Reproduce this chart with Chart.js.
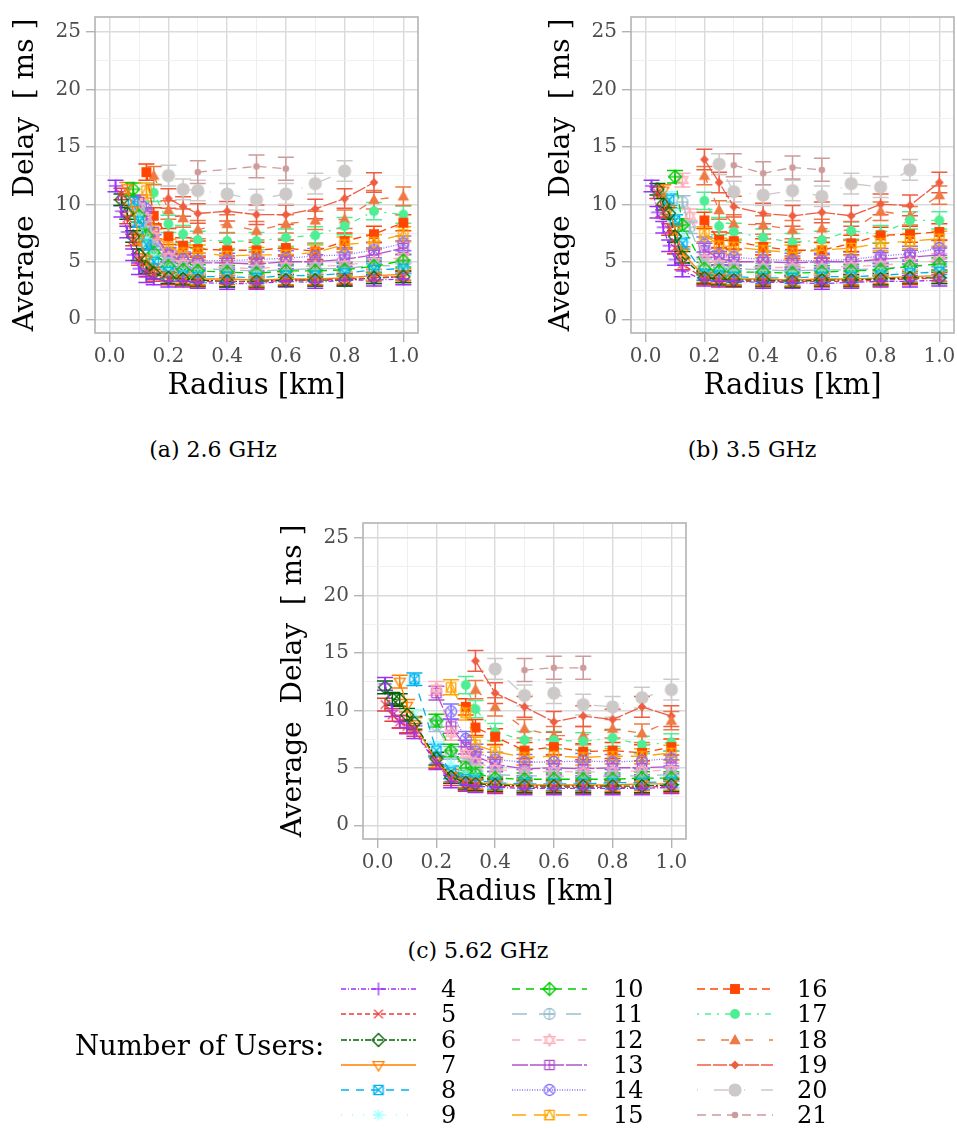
<!DOCTYPE html>
<html>
<head>
<meta charset="utf-8">
<script src="https://cdn.jsdelivr.net/npm/chart.js@4.4.1/dist/chart.umd.min.js"></script>
<style>
  body { margin: 0; background: #fff; width: 957px; height: 1129px; position: relative; overflow: hidden;
         font-family: "DejaVu Serif", serif; color: #000; }
  .panel { position: absolute; width: 440px; height: 410px; }
  .cap { position: absolute; font-size: 22px; transform: translateX(-50%); white-space: nowrap; }
  .lg-title { position: absolute; left: 75px; top: 1029px; font-size: 27.5px; white-space: nowrap; }
  .lg-num { position: absolute; font-size: 24px; line-height: 26px; }
  #legendCanvas { position: absolute; left: 0; top: 960px; }
</style>
</head>
<body>

<canvas id="panelA" class="panel" width="440" height="410" style="left:0;top:0"></canvas>
<canvas id="panelB" class="panel" width="440" height="410" style="left:536px;top:0"></canvas>
<canvas id="panelC" class="panel" width="440" height="410" style="left:268px;top:506px"></canvas>

<div class="cap" style="left:213px;top:437px">(a) 2.6 GHz</div>
<div class="cap" style="left:752px;top:437px">(b) 3.5 GHz</div>
<div class="cap" style="left:478px;top:938px">(c) 5.62 GHz</div>

<canvas id="legendCanvas" width="957" height="169"></canvas>
<div class="lg-title">Number of Users:</div>
<div id="legendNums"></div>

<script>
// ---------- data ----------
const users = [4, 5, 6, 7, 8, 9, 10, 11, 12, 13, 14, 15, 16, 17, 18, 19, 20, 21];

// radius grid [km] used by (a) and (b)
const radiusAB = [0.02, 0.04, 0.06, 0.08, 0.1, 0.125, 0.15, 0.2, 0.25, 0.3, 0.4, 0.5, 0.6, 0.7, 0.8, 0.9, 1.0];
// radius grid [km] used by (c)
const radiusC = [0.025, 0.05, 0.075, 0.1, 0.125, 0.2, 0.25, 0.3, 0.333, 0.4, 0.5, 0.6, 0.7, 0.8, 0.9, 1.0];

const n = null;

// (a) 2.6 GHz — one row per number of users, average delay [ms]
const delay26 = [
  [11.6, 9.4, 7.6, 5.6, 4.4, 3.7, 3.5, 3.3, 3.3, 3.2, 3.1, 3.1, 3.3, 3.2, 3.4, 3.4, 3.5],
  [n, 10.9, 8.8, 6.9, 5.2, 4.2, 3.8, 3.5, 3.4, 3.3, 3.3, 3.2, 3.4, 3.4, 3.5, 3.6, 3.7],
  [n, 10.4, 9.2, 7.2, 5.6, 4.5, 4.0, 3.6, 3.5, 3.4, 3.3, 3.3, 3.4, 3.4, 3.4, 3.6, 3.7],
  [n, n, 11.4, 9.5, 7.0, 5.2, 4.3, 3.8, 3.6, 3.5, 3.5, 3.4, 3.5, 3.5, 3.6, 3.8, 3.9],
  [n, n, n, 10.2, 8.5, 6.5, 5.0, 4.1, 3.8, 3.7, 3.7, 3.6, 3.8, 3.8, 4.0, 4.3, 4.4],
  [n, n, n, 9.8, 8.8, 7.0, 5.5, 4.3, 4.0, 3.9, 3.8, 3.8, 3.9, 3.9, 4.1, 4.2, 4.4],
  [n, n, n, 11.3, 9.0, 7.3, 5.8, 4.6, 4.3, 4.2, 4.1, 4.0, 4.2, 4.2, 4.3, 4.6, 5.1],
  [n, n, n, n, 9.6, 8.0, 6.3, 4.9, 4.5, 4.4, 4.3, 4.2, 4.3, 4.4, 4.4, 4.7, 4.6],
  [n, n, n, n, 9.8, 8.8, 7.2, 5.4, 4.8, 4.6, 4.5, 4.4, 4.6, 4.6, 4.7, 5.0, 5.4],
  [n, n, n, n, 10.2, 9.0, 7.6, 5.6, 5.0, 4.9, 4.9, 4.8, 5.0, 5.0, 5.2, 5.6, 6.2],
  [n, n, n, n, n, 9.6, 6.7, 5.6, 5.2, 5.1, 5.1, 5.2, 5.3, 5.5, 5.6, 6.0, 6.6],
  [n, n, n, n, n, 11.2, 7.5, 6.3, 5.8, 5.8, 5.5, 5.6, 5.6, 5.8, 6.5, 6.7, 7.4],
  [n, n, n, n, n, 12.8, 9.0, 7.2, 6.4, 6.1, 6.0, 6.0, 6.2, 5.9, 6.8, 7.4, 8.4],
  [n, n, n, n, n, n, 11.0, 8.3, 7.4, 6.9, 6.8, 6.8, 7.1, 7.3, 8.1, 9.4, 9.1],
  [n, n, n, n, n, n, 12.5, 9.5, 8.8, 7.8, 8.3, 7.7, 8.3, 8.6, 8.7, 10.4, 10.7],
  [n, n, n, n, n, n, n, 10.5, 9.8, 9.2, 9.4, 9.1, 9.1, 9.6, 10.5, 11.9, n],
  [n, n, n, n, n, n, n, 12.5, 11.3, 11.2, 10.9, 10.4, 10.9, 11.8, 12.9, n, n],
  [n, n, n, n, n, n, n, n, n, 12.8, n, 13.3, 13.1, n, n, n, n],
];

// (b) 3.5 GHz
const delay35 = [
  [11.6, 9.3, 8.0, 6.4, 5.2, 4.2, n, 3.4, 3.3, 3.3, 3.2, 3.2, 3.1, 3.2, 3.3, 3.3, 3.4],
  [n, 11.0, 9.4, 7.8, 6.2, 4.8, n, 3.5, 3.4, 3.3, 3.3, 3.3, 3.3, 3.3, 3.4, 3.5, 3.6],
  [n, 11.3, 10.0, 9.2, 7.2, 5.4, n, 3.6, 3.5, 3.4, 3.4, 3.3, 3.4, 3.4, 3.5, 3.6, 3.6],
  [n, n, 11.2, 9.6, 7.8, 5.8, n, 3.7, 3.6, 3.5, 3.5, 3.4, 3.5, 3.5, 3.6, 3.7, 3.8],
  [n, n, n, 10.4, 8.6, 6.6, n, 3.9, 3.8, 3.7, 3.6, 3.6, 3.7, 3.7, 3.8, 4.0, 4.1],
  [n, n, n, 10.6, 9.0, 7.2, n, 4.1, 3.9, 3.9, 3.8, 3.8, 3.9, 3.9, 4.0, 4.2, 4.3],
  [n, n, n, n, 12.4, 8.2, n, 4.4, 4.2, 4.1, 4.1, 4.0, 4.1, 4.2, 4.3, 4.6, 4.8],
  [n, n, n, n, n, 10.2, 8.0, 4.7, 4.5, 4.4, 4.3, 4.2, 4.3, 4.3, 4.4, 4.6, 4.7],
  [n, n, n, n, n, 12.1, 9.0, 5.2, 4.8, 4.6, 4.5, 4.5, 4.5, 4.6, 4.7, 4.9, 5.1],
  [n, n, n, n, n, n, n, 6.0, 5.3, 5.0, 5.0, 4.9, 5.0, 5.0, 5.2, 5.4, 5.6],
  [n, n, n, n, n, n, n, 6.5, 5.6, 5.4, 5.2, 5.1, 5.1, 5.2, 5.5, 5.7, 6.2],
  [n, n, n, n, n, n, n, 7.4, 6.4, 6.3, 6.0, 5.8, 6.0, 6.2, 6.6, 6.8, 7.0],
  [n, n, n, n, n, n, n, 8.6, 6.9, 6.8, 6.3, 6.0, 6.0, 6.6, 7.3, 7.4, 7.6],
  [n, n, n, n, n, n, n, 10.3, 8.1, 7.6, 7.1, 6.7, 6.9, 7.7, 7.4, 8.6, 8.6],
  [n, n, n, n, n, n, n, 12.5, 9.5, 8.3, 8.2, 7.8, 7.9, 7.7, 9.4, 9.0, 10.8],
  [n, n, n, n, n, n, n, 13.9, 11.9, 9.8, 9.2, 9.0, 9.3, 9.0, 10.0, 9.9, 11.9],
  [n, n, n, n, n, n, n, n, 13.5, 11.1, 10.8, 11.2, 10.7, 11.8, 11.5, 13.0, n],
  [n, n, n, n, n, n, n, n, n, 13.4, 12.7, 13.2, 13.0, n, n, n, n],
];

// (c) 5.62 GHz
const delay562 = [
  [12.3, 10.0, 9.0, 8.5, 8.1, 5.4, 3.8, 3.5, 3.4, 3.3, 3.2, 3.2, 3.2, 3.2, 3.2, 3.3],
  [10.5, 9.6, 9.0, 8.6, 8.3, 5.5, 4.0, 3.6, 3.5, 3.4, 3.3, 3.3, 3.3, 3.3, 3.3, 3.4],
  [12.0, 11.0, 10.9, 9.6, 8.9, 5.8, 4.2, 3.7, 3.6, 3.5, 3.4, 3.4, 3.4, 3.4, 3.4, 3.5],
  [n, n, 12.5, 10.4, 8.8, 5.6, 4.3, 3.8, 3.7, 3.6, 3.5, 3.5, 3.5, 3.5, 3.6, 3.6],
  [n, n, n, n, 12.7, 6.5, 4.6, 4.0, 3.9, 3.7, 3.6, 3.6, 3.6, 3.7, 3.7, 3.8],
  [n, n, n, n, 9.5, 6.7, 5.3, 4.4, 4.1, 3.8, 3.7, 3.7, 3.7, 3.8, 3.8, 3.8],
  [n, n, n, n, n, 9.1, 6.5, 5.0, 4.5, 4.1, 4.0, 4.0, 4.0, 4.0, 4.1, 4.1],
  [n, n, n, n, n, 8.7, 6.3, 5.3, 4.9, 4.4, 4.3, 4.3, 4.2, 4.3, 4.3, 4.4],
  [n, n, n, n, n, 11.9, 8.0, 6.2, 5.5, 4.9, 4.6, 4.7, 4.6, 4.7, 4.7, 4.8],
  [n, n, n, n, n, 11.5, 8.6, 6.8, 6.0, 5.3, 4.9, 5.0, 4.9, 5.0, 5.0, 5.1],
  [n, n, n, n, n, n, 9.9, 7.5, 6.4, 5.7, 5.5, 5.5, 5.6, 5.5, 5.6, 5.8],
  [n, n, n, n, n, n, 12.0, 9.8, 7.0, 6.4, 5.9, 6.0, 5.9, 6.0, 6.0, 6.3],
  [n, n, n, n, n, n, n, 10.3, 8.5, 7.7, 6.5, 6.8, 6.4, 6.5, 6.3, 6.8],
  [n, n, n, n, n, n, n, 12.2, 10.1, 8.1, 7.4, 7.4, 7.3, 7.6, 7.0, 7.2],
  [n, n, n, n, n, n, n, n, 11.8, 10.3, 8.4, 7.8, 7.8, 8.4, 8.0, 9.1],
  [n, n, n, n, n, n, n, n, 14.3, 11.5, 10.3, 9.0, 9.5, 9.2, 10.3, 9.5],
  [n, n, n, n, n, n, n, n, n, 13.6, 11.3, 11.5, 10.5, 10.3, 11.1, 11.8],
  [n, n, n, n, n, n, n, n, n, n, 13.5, 13.7, 13.7, n, n, n],
];

// half width of the error bars [ms], one per series
const err26  = [0.5, 0.5, 0.5, 0.5, 0.5, 0.5, 0.55, 0.55, 0.6, 0.6, 0.65, 0.65, 0.7, 0.75, 0.8, 0.85, 0.9, 1.0];
const err35  = [0.5, 0.5, 0.5, 0.5, 0.5, 0.5, 0.55, 0.55, 0.6, 0.6, 0.65, 0.65, 0.7, 0.75, 0.8, 0.9, 0.9, 1.0];
const err562 = [0.55, 0.55, 0.55, 0.55, 0.55, 0.55, 0.55, 0.55, 0.6, 0.6, 0.65, 0.65, 0.7, 0.75, 0.8, 0.9, 0.9, 1.0];

// axis ticks (minor lines every 0.1 km / 2.5 ms, labels on the major ones)
const xTicks = [0, 0.1, 0.2, 0.3, 0.4, 0.5, 0.6, 0.7, 0.8, 0.9, 1.0];
const yTicks = [0, 2.5, 5, 7.5, 10, 12.5, 15, 17.5, 20, 22.5, 25];

// ---------- style ----------
const seriesColors = ['#9B30FF', '#EE3B3B', '#006400', '#FF7F00', '#00B2EE', '#97FFFF',
  '#00CD00', '#9AC0CD', '#FFAEB9', '#B452CD', '#8470FF', '#FFA500',
  '#FF4500', '#4EEE94', '#EE7942', '#EE5C42', '#CDC9C9', '#CD9B9B'];
const seriesDash = [[5, 2, 1, 2], [5, 3], [6, 2, 2, 2], [], [8, 7], [1, 10],
  [8, 6], [15, 12], [8, 14], [16, 2], [1, 1.5], [14, 8],
  [8, 5], [2, 6, 6, 6], [8, 16], [14, 2], [1, 16, 14, 16], [9, 6]];
const seriesShape = [3, 4, 5, 6, 7, 8, 9, 10, 11, 12, 13, 14, 15, 16, 17, 18, 19, 20];

const GRID_MAJOR = '#DADADA';
const GRID_MINOR = '#EDEDED';
const FRAME = '#B3B3B3';

Chart.defaults.font.family = '"DejaVu Serif", serif';

//  MARKERS — R-like plotting symbols drawn on small canvases

function makeMarker(pch, color) {
  const S = 20;
  const c = document.createElement('canvas');
  c.width = S; c.height = S;
  const g = c.getContext('2d');
  g.translate(S / 2, S / 2);
  g.strokeStyle = color; g.fillStyle = color; g.lineWidth = 1.3;
  const r = 5.5;
  const line = (x1, y1, x2, y2) => { g.beginPath(); g.moveTo(x1, y1); g.lineTo(x2, y2); g.stroke(); };
  const poly = (pts, fill) => {
    g.beginPath();
    pts.forEach(([x, y], k) => k ? g.lineTo(x, y) : g.moveTo(x, y));
    g.closePath();
    fill ? g.fill() : g.stroke();
  };
  const circ = (rad, fill) => { g.beginPath(); g.arc(0, 0, rad, 0, Math.PI * 2); fill ? g.fill() : g.stroke(); };
  const plus  = k => { line(-k, 0, k, 0); line(0, -k, 0, k); };
  const cross = k => { line(-k, -k, k, k); line(-k, k, k, -k); };
  const sq  = k => [[-k, -k], [k, -k], [k, k], [-k, k]];
  const dia = k => [[0, -k], [k, 0], [0, k], [-k, 0]];

  switch (pch) {
    case 3:  plus(r + 1); break;
    case 4:  cross(r * 0.8); break;
    case 5:  poly(dia(r + 1)); break;
    case 6:  poly([[-r, -r * 0.6], [r, -r * 0.6], [0, r * 1.1]]); break;
    case 7:  poly(sq(r * 0.85)); cross(r * 0.85); break;
    case 8:  plus(r); cross(r * 0.75); break;
    case 9:  poly(dia(r + 1)); plus(r + 1); break;
    case 10: circ(r); plus(r); break;
    case 11: poly([[0, -r * 1.1], [r, r * 0.6], [-r, r * 0.6]]);
             poly([[0, r * 1.1], [r, -r * 0.6], [-r, -r * 0.6]]); break;
    case 12: poly(sq(r * 0.85)); plus(r * 0.85); break;
    case 13: circ(r); cross(r * 0.7); break;
    case 14: poly(sq(r * 0.85)); poly([[0, -r * 0.85], [r * 0.85, r * 0.85], [-r * 0.85, r * 0.85]]); break;
    case 15: poly(sq(r * 0.9), true); break;
    case 16: circ(r * 0.9, true); break;
    case 17: poly([[0, -r * 1.1], [r * 1.05, r * 0.75], [-r * 1.05, r * 0.75]], true); break;
    case 18: poly(dia(r * 0.8), true); break;
    case 19: circ(r * 1.2, true); break;
    case 20: circ(r * 0.6, true); break;
  }
  return c;
}

const markers = seriesShape.map((p, i) => makeMarker(p, seriesColors[i]));

//  PLUGINS

const errorBars = {
  id: 'errorBars',
  beforeDatasetsDraw(chart) {
    const { ctx, chartArea, scales: { x, y } } = chart;
    ctx.save();
    ctx.beginPath();
    ctx.rect(chartArea.left, chartArea.top, chartArea.right - chartArea.left, chartArea.bottom - chartArea.top);
    ctx.clip();
    ctx.lineWidth = 1.5;
    ctx.setLineDash([]);
    chart.data.datasets.forEach(ds => {
      ctx.strokeStyle = ds.borderColor;
      ds.data.forEach(p => {
        const px = x.getPixelForValue(p.x);
        const lo = y.getPixelForValue(p.y - ds.err);
        const hi = y.getPixelForValue(p.y + ds.err);
        ctx.beginPath();
        ctx.moveTo(px, lo); ctx.lineTo(px, hi);
        ctx.moveTo(px - 8, lo); ctx.lineTo(px + 8, lo);
        ctx.moveTo(px - 8, hi); ctx.lineTo(px + 8, hi);
        ctx.stroke();
      });
    });
    ctx.restore();
  },
};

const panelFrame = {
  id: 'panelFrame',
  afterDraw(chart) {
    const { ctx, chartArea: a } = chart;
    ctx.save();
    ctx.strokeStyle = FRAME;
    ctx.lineWidth = 1.6;
    ctx.strokeRect(a.left, a.top, a.right - a.left, a.bottom - a.top);
    ctx.restore();
  },
};

//  PANELS

const isMajorX = v => Math.round(v * 10) % 2 === 0;
const isMajorY = v => Math.round(v * 10) % 50 === 0;

function drawPanel(id, radii, rows, errs) {
  const datasets = rows.map((vals, i) => ({
    label:           String(users[i]),
    data:            radii.map((r, k) => ({ x: r, y: vals[k] })).filter(p => p.y !== null),
    err:             errs[i],
    borderColor:     seriesColors[i],
    backgroundColor: seriesColors[i],
    borderWidth:     1.3,
    borderDash:      seriesDash[i],
    pointStyle:      markers[i],
    pointRadius:     5,
    tension:         0,
    fill:            false,
  }));

  const tickFont = { size: 20 };

  new Chart(document.getElementById(id), {
    type: 'line',
    data: { datasets },
    options: {
      responsive: false,
      animation: false,
      devicePixelRatio: 1,
      layout: { padding: { top: 7, right: 22, left: 0, bottom: 0 } },
      plugins: { legend: { display: false }, tooltip: { enabled: false } },
      scales: {
        x: {
          type: 'linear',
          min: -0.05,
          max: 1.05,
          afterBuildTicks: s => { s.ticks = xTicks.map(v => ({ value: v })); },
          afterFit: s => { s.height = 77; },
          ticks: {
            autoSkip: false, maxRotation: 0, padding: 3,
            font: tickFont, color: '#4D4D4D',
            callback: v => isMajorX(v) ? v.toFixed(1) : '',
          },
          grid: {
            color:     c => isMajorX(c.tick.value) ? GRID_MAJOR : GRID_MINOR,
            lineWidth: c => isMajorX(c.tick.value) ? 1.4 : 0.9,
            tickColor: c => isMajorX(c.tick.value) ? FRAME : 'rgba(0,0,0,0)',
            tickLength: 9,
            tickWidth: 1.4,
          },
          border: { display: false },
          title: {
            display: true, text: 'Radius [km]', color: '#000',
            font: { size: 29 }, padding: { top: 0, bottom: 6 },
          },
        },
        y: {
          min: -1.2,
          max: 26.3,
          afterBuildTicks: s => { s.ticks = yTicks.map(v => ({ value: v })); },
          afterFit: s => { s.width = 95; },
          ticks: {
            autoSkip: false, padding: 5,
            font: tickFont, color: '#4D4D4D',
            callback: v => isMajorY(v) ? String(v) : '',
          },
          grid: {
            color:     c => isMajorY(c.tick.value) ? GRID_MAJOR : GRID_MINOR,
            lineWidth: c => isMajorY(c.tick.value) ? 1.4 : 0.9,
            tickColor: c => isMajorY(c.tick.value) ? FRAME : 'rgba(0,0,0,0)',
            tickLength: 9,
            tickWidth: 1.4,
          },
          border: { display: false },
          title: {
            display: true, text: 'Average  Delay  [ ms ]', color: '#000',
            font: { size: 28 }, padding: { top: 9, bottom: 0 },
          },
        },
      },
    },
    plugins: [errorBars, panelFrame],
  });
}

drawPanel('panelA', radiusAB, delay26, err26);
drawPanel('panelB', radiusAB, delay35, err35);
drawPanel('panelC', radiusC, delay562, err562);

//  LEGEND — three columns of six entries

(function drawLegend() {
  const canvas = document.getElementById('legendCanvas');
  const g = canvas.getContext('2d');
  const top = 960;
  const rowY  = [989, 1014, 1040, 1065, 1090, 1115];
  const colX0 = [341, 512, 697];
  const colX1 = [416, 587, 773];
  const numX  = [441, 613, 797];
  const holder = document.getElementById('legendNums');

  users.forEach((u, i) => {
    const col = Math.floor(i / 6), row = i % 6;
    const y = rowY[row] - top;
    g.save();
    g.strokeStyle = seriesColors[i];
    g.lineWidth = 1.4;
    g.setLineDash(seriesDash[i]);
    g.beginPath();
    g.moveTo(colX0[col], y);
    g.lineTo(colX1[col], y);
    g.stroke();
    g.restore();
    const m = markers[i];
    const cx = (colX0[col] + colX1[col]) / 2;
    g.drawImage(m, cx - m.width / 2, y - m.height / 2);

    const lab = document.createElement('div');
    lab.className = 'lg-num';
    lab.style.left = numX[col] + 'px';
    lab.style.top = (rowY[row] - 13) + 'px';
    lab.textContent = String(u);
    holder.appendChild(lab);
  });
})();
</script>
</body>
</html>
